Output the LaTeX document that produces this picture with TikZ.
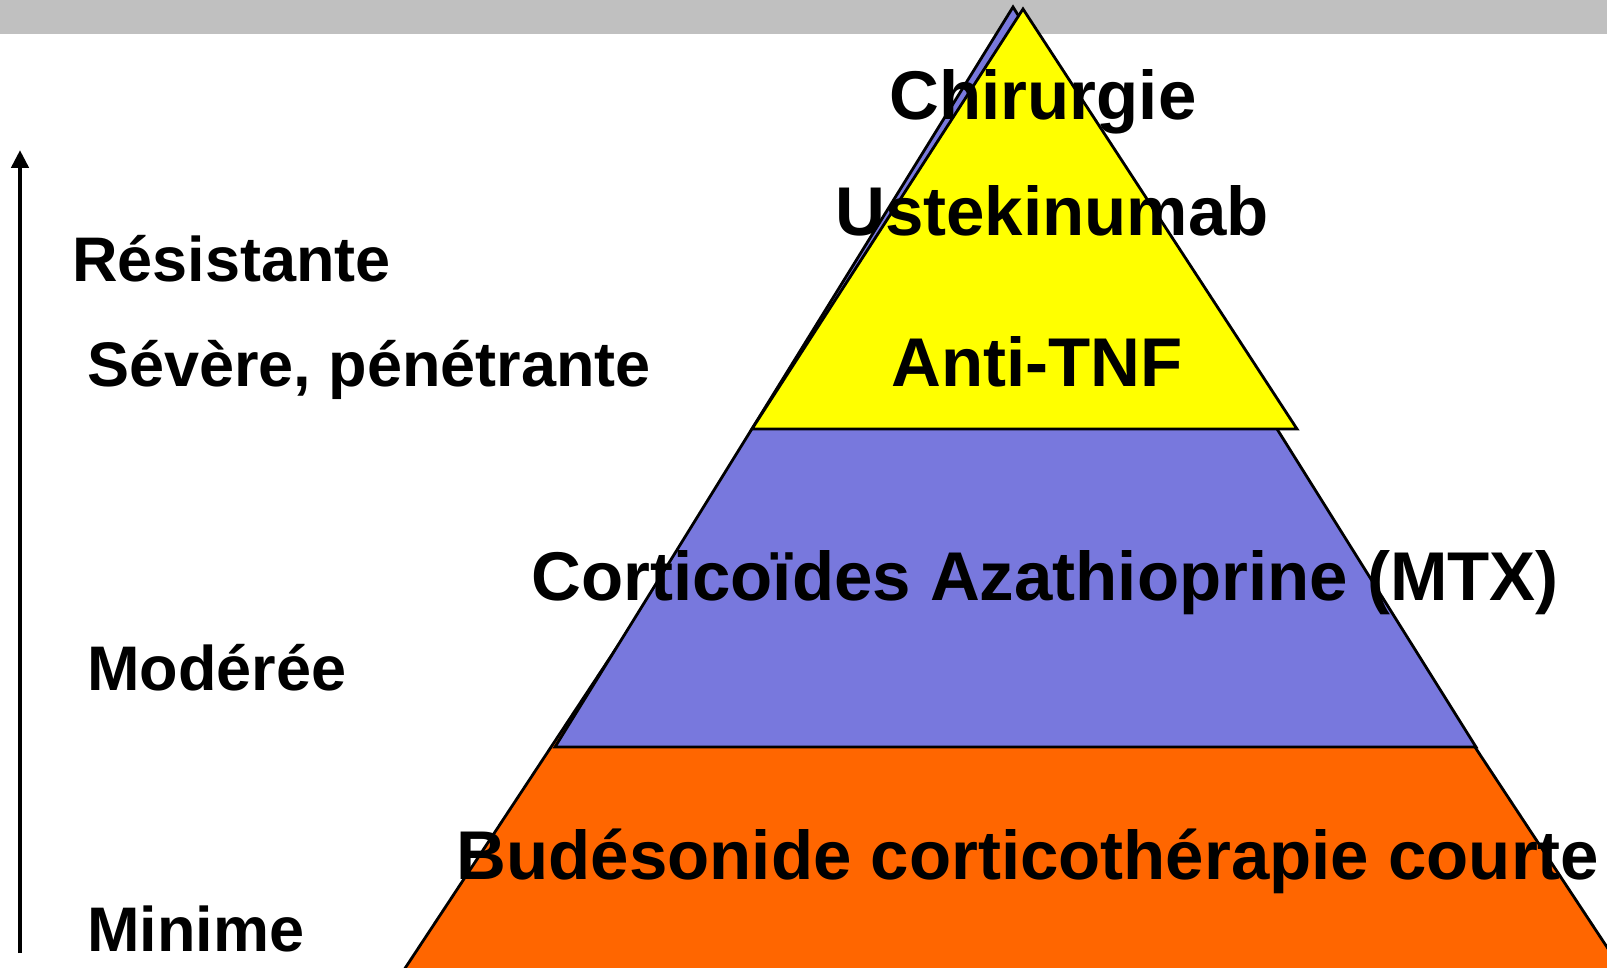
\documentclass[tikz,border=0pt]{standalone}
\usepackage{fontspec}
\setmainfont{Liberation Sans}
\usetikzlibrary{arrows.meta}
\definecolor{bandgray}{RGB}{192,192,192}
\definecolor{pyryellow}{RGB}{255,255,0}
\definecolor{pyrpurple}{RGB}{120,120,221}
\definecolor{pyrorange}{RGB}{255,102,0}
\begin{document}
\begin{tikzpicture}[x=1pt,y=-1pt,
  layer/.style={draw=black,line width=2.8pt,line join=miter},
  pyrlabel/.style={font=\fontsize{69}{80}\selectfont\bfseries,inner sep=0pt,anchor=base},
  sidelabel/.style={font=\fontsize{63}{74}\selectfont\bfseries,inner sep=0pt,anchor=base west}]
\useasboundingbox (0,0) rectangle (1607,968);
\clip (0,0) rectangle (1607,968);
\fill[white] (0,0) rectangle (1607,968);
\fill[bandgray] (0,0) rectangle (1607,34);
% pyramid layers
\draw[layer,fill=pyrorange] (1013,47) -- (1762,1182) -- (264,1182) -- cycle;
\draw[layer,fill=pyrpurple] (1013,7) -- (1476,747) -- (555,747) -- cycle;
\draw[layer,fill=pyryellow] (1023,9) -- (1297,429) -- (752,429) -- cycle;
% arrow
\coordinate (abot) at (20,953);
\coordinate (atop) at (20,150);
\draw[line width=4.5pt,-{Triangle[width=17pt,length=18pt]}] (abot) -- (atop);
% pyramid labels
\node[pyrlabel] (chir) at (1043,120) {Chirurgie};
\node[pyrlabel] (uste) at (1052,236) {Ustekinumab};
\node[pyrlabel] (antitnf) at (1037,387) {Anti-TNF};
\node[pyrlabel] (cortico) at (1045,600) {Corticoïdes Azathioprine (MTX)};
\node[pyrlabel] (budeso) at (1028,879) {Budésonide corticothérapie courte};
% side labels
\node[sidelabel] (resist) at (72,282) {Résistante};
\node[sidelabel] (severe) at (87,387) {Sévère, pénétrante};
\node[sidelabel] (modere) at (87,690) {Modérée};
\node[sidelabel] (minime) at (87,951) {Minime};
\end{tikzpicture}
\end{document}
